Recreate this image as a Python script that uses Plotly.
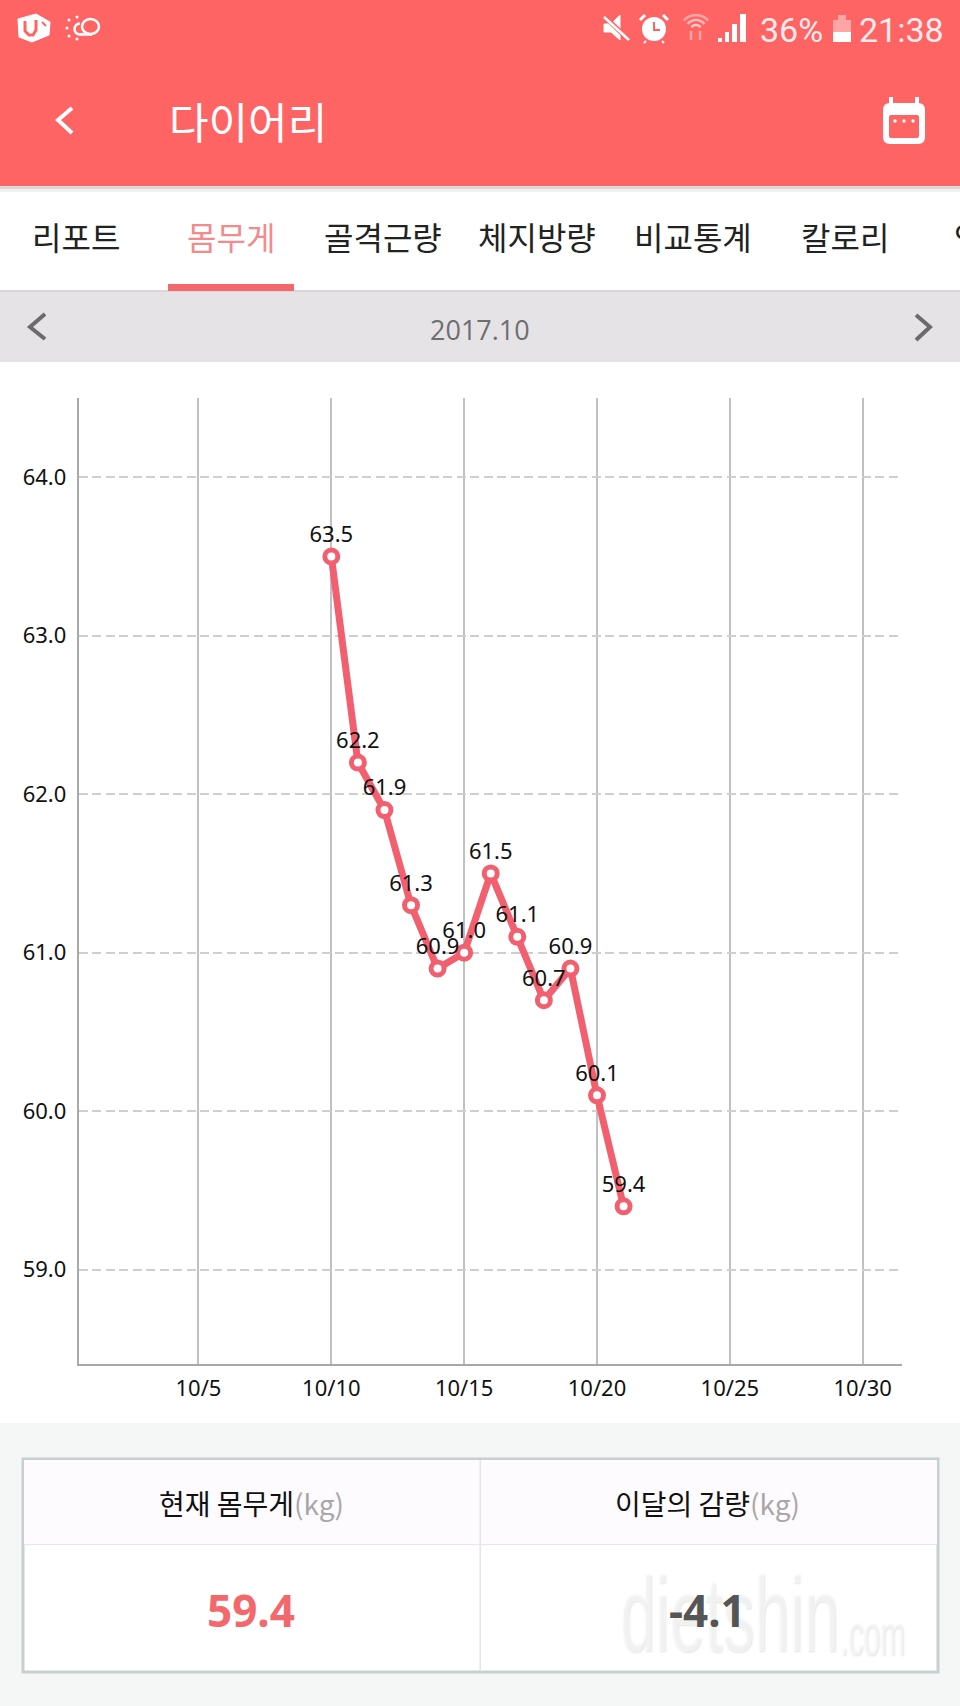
import math
import plotly.graph_objects as go

# values
days = [10, 11, 12, 13, 14, 15, 16, 17, 18, 19, 20, 21]
weights = [63.5, 62.2, 61.9, 61.3, 60.9, 61.0, 61.5, 61.1, 60.7, 60.9, 60.1, 59.4]
x_ticks = [5, 10, 15, 20, 25, 30]
x_labels = ['10/5', '10/10', '10/15', '10/20', '10/25', '10/30']
y_ticks = [59, 60, 61, 62, 63, 64]
y_labels = ['59.0', '60.0', '61.0', '62.0', '63.0', '64.0']
tabs = ['리포트', '몸무게', '골격근량', '체지방량', '비교통계', '칼로리', '영']
tab_pos = [76, 231, 383, 537, 693, 845, 968]

W, H = 960, 1706
RED = '#ff6464'
LINE = '#f2606f'
KR = 'Noto Sans CJK KR'
LATIN = 'Noto Sans'
WHITE = '#ffffff'


# the app chrome is laid out in screen pixels, these turn them into paper coords
def px(x):
    return x / W


def py(y):
    return 1 - y / H


def rect(x0, y0, x1, y1, fill, line=None, lw=0, layer='above'):
    return dict(type='rect', xref='paper', yref='paper', x0=px(x0), x1=px(x1), y0=py(y0), y1=py(y1),
                fillcolor=fill, line=dict(color=line or fill, width=lw), layer=layer)


def poly(points, color, lw=3, fill=None, close=False):
    path = 'M ' + ' L '.join(f'{px(a):.5f},{py(b):.5f}' for a, b in points) + (' Z' if close else '')
    return dict(type='path', xref='paper', yref='paper', path=path, fillcolor=fill or 'rgba(0,0,0,0)',
                line=dict(color=color, width=lw), layer='above')


def rounded(x0, y0, x1, y1, r, fill):
    def p(a, b):
        return f'{px(a):.5f},{py(b):.5f}'
    path = (f'M {p(x0 + r, y0)} L {p(x1 - r, y0)} Q {p(x1, y0)} {p(x1, y0 + r)} L {p(x1, y1 - r)} '
            f'Q {p(x1, y1)} {p(x1 - r, y1)} L {p(x0 + r, y1)} Q {p(x0, y1)} {p(x0, y1 - r)} '
            f'L {p(x0, y0 + r)} Q {p(x0, y0)} {p(x0 + r, y0)} Z')
    return dict(type='path', xref='paper', yref='paper', path=path, fillcolor=fill,
                line=dict(color=fill, width=0), layer='above')


def circle(x0, y0, x1, y1, color, lw=2, fill=None):
    return dict(type='circle', xref='paper', yref='paper', x0=px(x0), x1=px(x1), y0=py(y0), y1=py(y1),
                fillcolor=fill or 'rgba(0,0,0,0)', line=dict(color=color, width=lw), layer='above')


def dot(x, y, r, color):
    return circle(x - r, y - r, x + r, y + r, color, 0, color)


def arc(cx, cy, r, start, end, color, lw=2):
    pts = [(cx + r * math.cos(math.radians(start + (end - start) * i / 12)),
            cy - r * math.sin(math.radians(start + (end - start) * i / 12))) for i in range(13)]
    return poly(pts, color, lw)


def label(x, y, text, size, color, font=KR, anchor='center', shadow=None):
    f = dict(family=font, size=size, color=color)
    if shadow:
        f['shadow'] = shadow
    return dict(xref='paper', yref='paper', x=px(x), y=py(y), text=text, showarrow=False, xanchor=anchor,
                yanchor='middle', font=f)


FAINT = 'rgba(255,255,255,0.42)'
shapes = [
    # header and its shadow
    rect(0, 186, W, 189, '#d9d9d9', layer='below'),
    rect(0, 189, W, 192, '#f0f0f0', layer='below'),
    rect(0, 0, W, 186, RED, layer='below'),
    # tab underline, month band
    rect(0, 290, W, 292, '#d8d6d8', layer='below'),
    rect(0, 292, W, 362, '#e6e3e6', layer='below'),
    rect(168, 284, 294, 291, '#f4686c', layer='below'),
    # bottom section and table
    rect(0, 1423, W, H, '#f5f7f7', layer='below'),
    rect(23, 1459, 938, 1672, WHITE, '#c8cfd0', 3, layer='below'),
    rect(24, 1460, 937, 1544, '#fdfbfd', layer='below'),
    rect(24, 1544, 937, 1545, '#e6e8e8', layer='below'),
    rect(479.5, 1460, 481, 1671, '#e2e6e6', layer='below'),
    # back arrow, month arrows
    poly([(72, 108), (58, 120), (72, 133)], WHITE, 4),
    poly([(45, 314), (30, 327), (45, 339)], '#6b6b6b', 4),
    poly([(916, 315), (930, 327), (916, 340)], '#6b6b6b', 4),
    # calendar icon
    rounded(883, 103, 925, 144, 7, WHITE),
    rect(889, 97, 893, 106, WHITE),
    rect(915, 97, 919, 106, WHITE),
    rounded(889, 115, 919, 138, 2, RED),
    dot(895, 121, 1.7, WHITE), dot(904, 121, 1.7, WHITE), dot(913, 121, 1.7, WHITE),
    # status bar icons, left: logo and cloud
    poly([(18, 19), (36, 14), (50, 22), (49, 35), (32, 42), (19, 37)], WHITE, 1, WHITE, True),
    poly([(25, 21), (25, 31), (29, 35), (33, 35), (36, 30), (36, 20)], RED, 3),
    poly([(42, 22), (46, 26)], RED, 2),
    circle(82, 19, 99, 34, WHITE, 2.5),
    arc(80, 29, 5.5, 90, 300, WHITE, 2.5),
    poly([(80, 34.5), (92, 34.5)], WHITE, 2.5),
    dot(77, 17, 1.5, WHITE), dot(69, 20, 1.5, WHITE), dot(67, 28, 1.5, WHITE),
    dot(69, 36, 1.5, WHITE), dot(77, 39, 1.5, WHITE),
    # status bar icons, right: mute, alarm, wifi, signal, battery
    poly([(604, 24), (611, 24), (620, 15), (620, 40), (611, 32), (604, 32)], WHITE, 1, WHITE, True),
    poly([(604, 16), (629, 40)], RED, 5),
    poly([(604, 17), (629, 40)], WHITE, 2.5),
    dot(654, 29, 12, WHITE),
    poly([(654, 22), (654, 30), (660, 30)], RED, 2),
    poly([(640, 20), (645, 15)], WHITE, 3),
    poly([(663, 15), (668, 20)], WHITE, 3),
    poly([(646, 41), (644, 43)], WHITE, 2),
    poly([(662, 41), (664, 43)], WHITE, 2),
    arc(696, 31, 16, 40, 140, FAINT, 2.5),
    arc(696, 31, 11, 40, 140, 'rgba(255,255,255,0.55)', 2.5),
    arc(696, 31, 6, 40, 140, 'rgba(255,255,255,0.65)', 2.5),
    poly([(691, 31), (691, 40)], FAINT, 2.5),
    poly([(700, 31), (700, 40)], FAINT, 2.5),
    rect(718, 38, 722, 42, WHITE),
    rect(725, 32, 729, 42, WHITE),
    rect(732, 24, 737, 42, WHITE),
    rect(740, 14, 746, 42, WHITE),
    rect(833, 20, 851, 32, FAINT),
    rect(838, 15, 846, 20, FAINT),
    rect(833, 32, 851, 42, WHITE),
]

annotations = [
    label(758, 30, '36%', 34, 'rgba(255,255,255,0.9)', 'Roboto', 'left'),
    label(946, 30, '21:38', 34, 'rgba(255,255,255,0.9)', 'Roboto', 'right'),
    label(167, 120, '다이어리', 43, WHITE, KR, 'left'),
    label(480, 329, '2017.10', 27, '#6e6e70', 'Open Sans'),
    label(251, 1503, '현재 몸무게<span style="color:#aaa6aa">(kg)</span>', 28, '#111111'),
    label(707, 1503, '이달의 감량<span style="color:#aaa6aa">(kg)</span>', 28, '#111111'),
    label(251, 1610, '<b>59.4</b>', 44, '#f2686c', LATIN),
    # watermark, squeezed sideways once the page has drawn
    label(618, 1614, 'dietshin', 106, 'rgba(255,255,255,0.5)', 'Liberation Sans', 'left',
          '1px 1px 2px #c8c8c8'),
    label(838, 1634, '.com', 60, 'rgba(255,255,255,0.5)', 'Liberation Sans', 'left',
          '1px 1px 2px #c8c8c8'),
    label(707, 1610, '<b>-4.1</b>', 44, '#555555', LATIN),
]
for name, pos in zip(tabs, tab_pos):
    annotations.append(label(pos, 236, name, 32, '#f28a8e' if name == '몸무게' else '#222222'))

trace = go.Scatter(
    x=days, y=weights, mode='lines+markers+text',
    text=[f'{v:.1f}' for v in weights], textposition='top center',
    textfont=dict(family=LATIN, size=22, color='#111111'),
    line=dict(color=LINE, width=7),
    marker=dict(size=13, color=WHITE, line=dict(color=LINE, width=5)),
    cliponaxis=False,
)

layout = go.Layout(
    width=W, height=H, autosize=False, margin=dict(l=0, r=0, t=0, b=0, pad=0),
    paper_bgcolor=WHITE, plot_bgcolor=WHITE, showlegend=False,
    shapes=shapes, annotations=annotations,
    xaxis=dict(domain=[px(78.5), px(902)], range=[0.484, 31.48], tickvals=x_ticks, ticktext=x_labels,
               tickfont=dict(family=LATIN, size=22, color='#111111'),
               ticks='outside', ticklen=4, tickcolor='rgba(0,0,0,0)',
               showgrid=True, gridcolor='#c0c0c0', gridwidth=1.5, zeroline=False,
               showline=True, linecolor='#a8a8a8', linewidth=1.5),
    yaxis=dict(domain=[py(1364), py(398)], range=[58.405, 64.5], tickvals=y_ticks, ticktext=y_labels,
               tickfont=dict(family=LATIN, size=22, color='#111111'),
               ticks='outside', ticklen=6, tickcolor='rgba(0,0,0,0)',
               showgrid=True, gridcolor='#cfcfcf', gridwidth=1.5, griddash='9px,4.5px', zeroline=False,
               showline=True, linecolor='#a8a8a8', linewidth=1.5),
)

squeeze = """
setTimeout(function () {
  document.querySelectorAll('.annotation-text').forEach(function (t) {
    var s = {'dietshin': 0.6, '.com': 0.5}[t.textContent];
    if (s) {
      t.style.transformBox = 'fill-box';
      t.style.transformOrigin = 'left center';
      t.style.transform = 'scaleX(' + s + ')';
    }
  });
}, 50);
document.body.style.margin = '0';
"""

fig = go.Figure(data=[trace], layout=layout)
fig.write_html('out.html', post_script=squeeze, config={'displayModeBar': False})
